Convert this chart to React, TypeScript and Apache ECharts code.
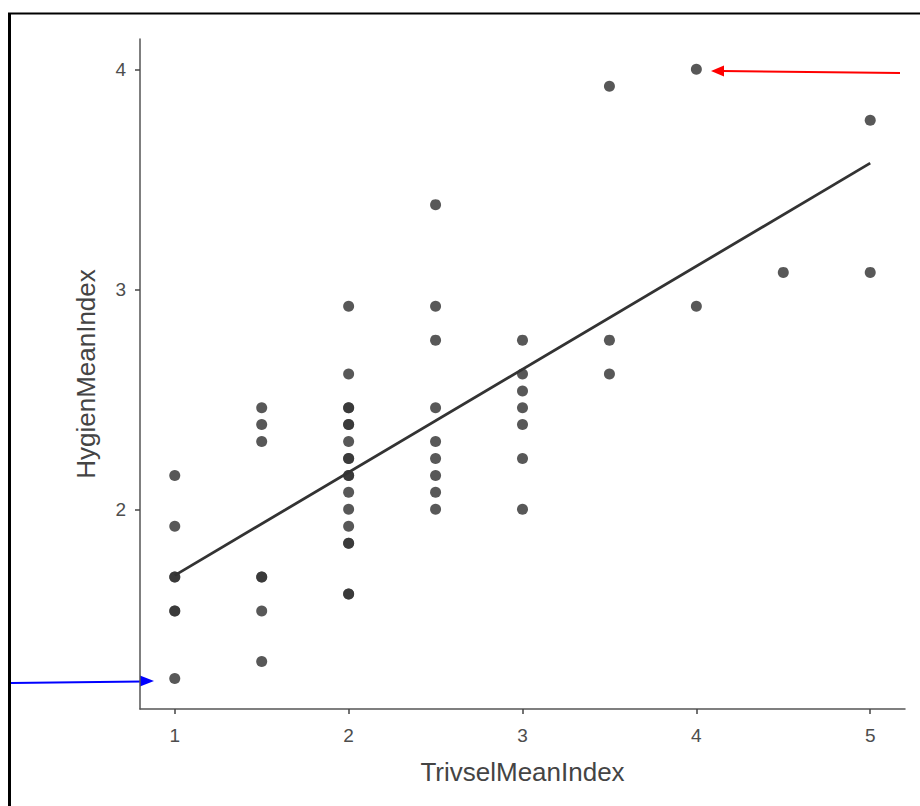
import React, { useEffect, useRef } from "react";
import * as echarts from "echarts";

// TrivselMeanIndex (x) and HygienMeanIndex (y), one entry per respondent
const trivselValues = [
  1, 1, 1, 1, 1, 1, 1,
  1.5, 1.5, 1.5, 1.5, 1.5, 1.5, 1.5,
  2, 2, 2, 2, 2, 2, 2, 2, 2, 2, 2, 2, 2, 2, 2, 2, 2, 2,
  2.5, 2.5, 2.5, 2.5, 2.5, 2.5, 2.5, 2.5, 2.5,
  3, 3, 3, 3, 3, 3, 3,
  3.5, 3.5, 3.5,
  4, 4,
  4.5,
  5, 5,
];
const hygienValues = [
  2.154, 1.923, 1.692, 1.692, 1.538, 1.538, 1.231,
  2.462, 2.385, 2.308, 1.692, 1.692, 1.538, 1.308,
  2.923, 2.615, 2.462, 2.462, 2.385, 2.385, 2.308, 2.231, 2.231, 2.154, 2.154, 2.077, 2.0, 1.923, 1.846, 1.846, 1.615, 1.615,
  3.385, 2.923, 2.769, 2.462, 2.308, 2.231, 2.154, 2.077, 2.0,
  2.769, 2.615, 2.538, 2.462, 2.385, 2.231, 2.0,
  3.923, 2.769, 2.615,
  4.0, 2.923,
  3.077,
  3.769, 3.077,
];
const xTickValues = [1, 2, 3, 4, 5];
const yTickValues = [2, 3, 4];

function linearFit(xs: number[], ys: number[]) {
  const n = xs.length;
  const mx = xs.reduce((a, b) => a + b, 0) / n;
  const my = ys.reduce((a, b) => a + b, 0) / n;
  let sxy = 0;
  let sxx = 0;
  for (let i = 0; i < n; i++) {
    sxy += (xs[i] - mx) * (ys[i] - my);
    sxx += (xs[i] - mx) * (xs[i] - mx);
  }
  const slope = sxy / sxx;
  return { slope, intercept: my - slope * mx };
}

export default function App() {
  const ref = useRef<HTMLDivElement>(null);
  useEffect(() => {
    if (!ref.current) return;
    const chart = echarts.init(ref.current, null, { renderer: "svg" });
    const fit = linearFit(trivselValues, hygienValues);
    const xMin = Math.min(...trivselValues);
    const xMax = Math.max(...trivselValues);
    const fitLine = [
      [xMin, fit.intercept + fit.slope * xMin],
      [xMax, fit.intercept + fit.slope * xMax],
    ];
    const font = "'Liberation Sans', Arial, sans-serif";
    chart.setOption({
      animation: false,
      backgroundColor: "#ffffff",
      grid: { left: 140, top: 39, right: 15, bottom: 97, containLabel: false },
      xAxis: {
        type: "value",
        min: 0.8,
        max: 5.2,
        name: "TrivselMeanIndex",
        nameLocation: "middle",
        nameGap: 50,
        nameTextStyle: { fontFamily: font, fontSize: 26, color: "#444" },
        axisLine: { show: true, onZero: false, lineStyle: { color: "#555", width: 1.5 } },
        axisTick: { show: true, length: 5, customValues: xTickValues, lineStyle: { color: "#444", width: 1.5 } },
        axisLabel: { customValues: xTickValues, margin: 17, fontFamily: font, fontSize: 19, color: "#4d4d4d" },
        splitLine: { show: false },
      },
      yAxis: {
        type: "value",
        min: 1.092,
        max: 4.138,
        name: "HygienMeanIndex",
        nameLocation: "middle",
        nameGap: 41,
        nameTextStyle: { fontFamily: font, fontSize: 26, color: "#444" },
        axisLine: { show: true, onZero: false, lineStyle: { color: "#555", width: 1.5 } },
        axisTick: { show: true, length: 5, customValues: yTickValues, lineStyle: { color: "#444", width: 1.5 } },
        axisLabel: { customValues: yTickValues, margin: 14, fontFamily: font, fontSize: 19, color: "#4d4d4d" },
        splitLine: { show: false },
      },
      series: [
        {
          type: "scatter",
          data: trivselValues.map((x, i) => [x, hygienValues[i]]),
          symbolSize: 11,
          itemStyle: { color: "#333333", opacity: 0.82 },
          z: 2,
        },
        {
          type: "line",
          data: fitLine,
          showSymbol: false,
          symbol: "none",
          lineStyle: { color: "#333333", width: 2.8 },
          z: 3,
        },
      ],
      graphic: [
        { type: "line", shape: { x1: 9.5, y1: 13, x2: 9.5, y2: 806 }, style: { stroke: "#000", lineWidth: 3 } },
        { type: "line", shape: { x1: 8, y1: 13.5, x2: 920, y2: 13.5 }, style: { stroke: "#000", lineWidth: 2 } },
        { type: "line", shape: { x1: 900, y1: 73, x2: 722, y2: 71 }, style: { stroke: "#ff0000", lineWidth: 2 } },
        { type: "polygon", shape: { points: [[711, 71], [724, 65.5], [724, 76.5]] }, style: { fill: "#ff0000" } },
        { type: "line", shape: { x1: 11, y1: 683, x2: 142, y2: 681.5 }, style: { stroke: "#0000ff", lineWidth: 2 } },
        { type: "polygon", shape: { points: [[154, 681], [140, 675.5], [140, 686.5]] }, style: { fill: "#0000ff" } },
      ],
    });
    return () => chart.dispose();
  }, []);
  return (
    <div
      ref={ref}
      style={{ position: "fixed", left: 0, top: 0, width: 920, height: 806, background: "#fff" }}
    />
  );
}
